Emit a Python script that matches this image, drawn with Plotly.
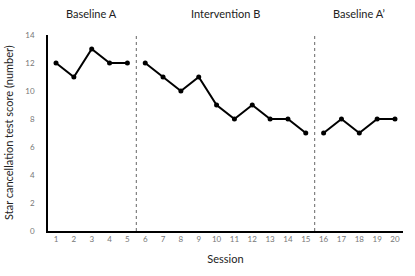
import plotly.graph_objects as go

sessions_a = [1, 2, 3, 4, 5]
scores_a = [12, 11, 13, 12, 12]
sessions_b = [6, 7, 8, 9, 10, 11, 12, 13, 14, 15]
scores_b = [12, 11, 10, 11, 9, 8, 9, 8, 8, 7]
sessions_a2 = [16, 17, 18, 19, 20]
scores_a2 = [7, 8, 7, 8, 8]
phase_labels = ["Baseline A", "Intervention B", "Baseline A\u2019"]
phase_centers = [3, 10.5, 18]
phase_dividers = [5.5, 15.5]
x_ticks = list(range(1, 21))
y_ticks = [0, 2, 4, 6, 8, 10, 12, 14]

fig = go.Figure()
for xs, ys in [(sessions_a, scores_a), (sessions_b, scores_b), (sessions_a2, scores_a2)]:
    fig.add_trace(go.Scatter(x=xs, y=ys, mode="lines+markers",
                             line=dict(color="black", width=2),
                             marker=dict(color="black", size=5),
                             showlegend=False))

for d in phase_dividers:
    fig.add_shape(type="line", x0=d, x1=d, y0=0, y1=1.0, yref="paper",
                  line=dict(color="#666", width=1, dash="dot"))

for lab, c in zip(phase_labels, phase_centers):
    fig.add_annotation(x=c, y=1, yref="paper", yshift=22, text=lab, showarrow=False,
                       font=dict(size=11, color="#222"), yanchor="middle")

fig.add_annotation(x=0, xref="paper", xshift=-40, xanchor="center", y=0.5, yref="paper",
                   text="Star cancellation test score (number)", textangle=-90,
                   showarrow=False, font=dict(size=11, color="#222"))

fig.update_layout(
    width=415, height=276,
    margin=dict(l=48, r=12, t=35, b=40),
    paper_bgcolor="white", plot_bgcolor="white",
    font=dict(family="Lato, Open Sans, sans-serif"),
    xaxis=dict(range=[0.55, 20.45], tickvals=x_ticks, showgrid=False, zeroline=False,
               showline=True, linecolor="black", linewidth=1.5,
               tickfont=dict(size=8, color="#777"), ticks="",
               title=dict(text="Session", font=dict(size=11, color="#222"), standoff=12)),
    yaxis=dict(range=[0, 14], tickvals=y_ticks, showgrid=False, zeroline=False,
               showline=True, linecolor="black", linewidth=1.5,
               tickfont=dict(size=8, color="#777"), ticks="", ticklabelstandoff=10),
)

fig.write_html("out.html")
